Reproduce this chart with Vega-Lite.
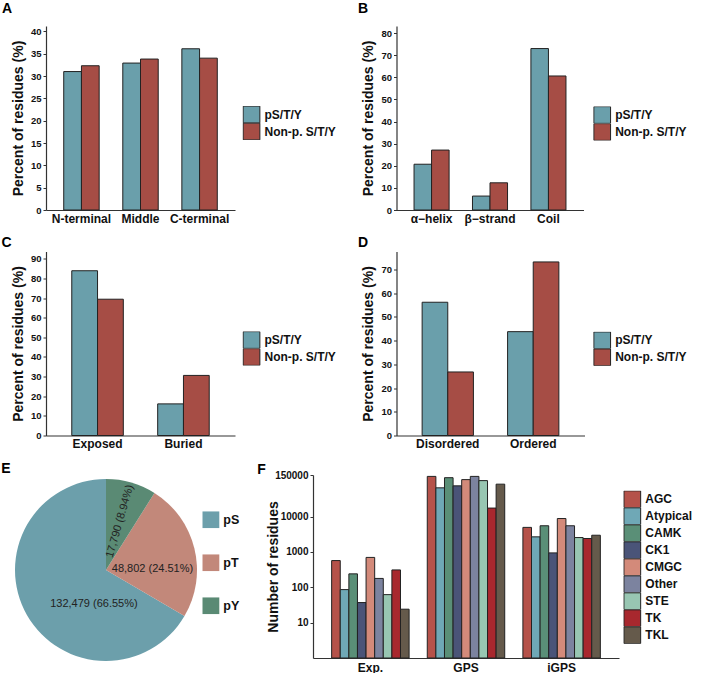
{
  "$schema": "https://vega.github.io/schema/vega-lite/v6.json",
  "background": "white",
  "padding": {"left": 1, "top": 2, "right": 0, "bottom": 0},
  "config": {
    "view": {"stroke": null},
    "font": "Liberation Sans",
    "title": {"fontSize": 14, "fontWeight": "bold", "anchor": "start", "frame": "bounds", "color": "#000"},
    "axis": {"grid": false, "domainColor": "#333", "domainWidth": 1.2, "tickColor": "#333", "tickWidth": 1, "tickSize": 3, "labelColor": "#111", "labelFontWeight": "bold", "titleFontWeight": "bold", "titleColor": "#111", "titleFontSize": 14},
    "axisX": {"ticks": false, "labelFontSize": 12, "labelAngle": 0, "labelPadding": 3},
    "axisY": {"labelFontSize": 9.5, "labelPadding": 2, "titlePadding": 5},
    "legend": {"title": null, "orient": "none", "labelFontSize": 12, "labelFontWeight": "bold", "labelColor": "#111", "symbolType": "square", "symbolStrokeColor": "#222", "symbolStrokeWidth": 1, "symbolOpacity": 1, "labelOffset": 4, "rowPadding": 0, "clipHeight": 17}
  },
  "datasets": {
    "a": [
      {"region": "N-terminal", "status": "pS/T/Y", "pct": 31.0},
      {"region": "N-terminal", "status": "Non-p. S/T/Y", "pct": 32.3},
      {"region": "Middle", "status": "pS/T/Y", "pct": 32.9},
      {"region": "Middle", "status": "Non-p. S/T/Y", "pct": 33.8},
      {"region": "C-terminal", "status": "pS/T/Y", "pct": 36.1},
      {"region": "C-terminal", "status": "Non-p. S/T/Y", "pct": 34.0}
    ],
    "b": [
      {"structure": "α−helix", "status": "pS/T/Y", "pct": 20.7},
      {"structure": "α−helix", "status": "Non-p. S/T/Y", "pct": 27.1},
      {"structure": "β−strand", "status": "pS/T/Y", "pct": 6.3},
      {"structure": "β−strand", "status": "Non-p. S/T/Y", "pct": 12.3},
      {"structure": "Coil", "status": "pS/T/Y", "pct": 73.0},
      {"structure": "Coil", "status": "Non-p. S/T/Y", "pct": 60.6}
    ],
    "c": [
      {"access": "Exposed", "status": "pS/T/Y", "pct": 83.9},
      {"access": "Exposed", "status": "Non-p. S/T/Y", "pct": 69.4},
      {"access": "Buried", "status": "pS/T/Y", "pct": 16.1},
      {"access": "Buried", "status": "Non-p. S/T/Y", "pct": 30.6}
    ],
    "d": [
      {"disorder": "Disordered", "status": "pS/T/Y", "pct": 56.2},
      {"disorder": "Disordered", "status": "Non-p. S/T/Y", "pct": 26.8},
      {"disorder": "Ordered", "status": "pS/T/Y", "pct": 43.8},
      {"disorder": "Ordered", "status": "Non-p. S/T/Y", "pct": 73.2}
    ],
    "e": [
      {"type": "pS", "count": 132479, "label": "132,479 (66.55%)"},
      {"type": "pT", "count": 48802, "label": "48,802 (24.51%)"},
      {"type": "pY", "count": 17790, "label": "17,790 (8.94%)"}
    ],
    "f": [
      {"method": "Exp.", "kinase": "AGC", "n": 570},
      {"method": "Exp.", "kinase": "Atypical", "n": 86},
      {"method": "Exp.", "kinase": "CAMK", "n": 240},
      {"method": "Exp.", "kinase": "CK1", "n": 37},
      {"method": "Exp.", "kinase": "CMGC", "n": 700},
      {"method": "Exp.", "kinase": "Other", "n": 178},
      {"method": "Exp.", "kinase": "STE", "n": 62},
      {"method": "Exp.", "kinase": "TK", "n": 310},
      {"method": "Exp.", "kinase": "TKL", "n": 24},
      {"method": "GPS", "kinase": "AGC", "n": 137000},
      {"method": "GPS", "kinase": "Atypical", "n": 65000},
      {"method": "GPS", "kinase": "CAMK", "n": 126000},
      {"method": "GPS", "kinase": "CK1", "n": 74000},
      {"method": "GPS", "kinase": "CMGC", "n": 111000},
      {"method": "GPS", "kinase": "Other", "n": 137000},
      {"method": "GPS", "kinase": "STE", "n": 104000},
      {"method": "GPS", "kinase": "TK", "n": 17400},
      {"method": "GPS", "kinase": "TKL", "n": 82600},
      {"method": "iGPS", "kinase": "AGC", "n": 4950},
      {"method": "iGPS", "kinase": "Atypical", "n": 2670},
      {"method": "iGPS", "kinase": "CAMK", "n": 5500},
      {"method": "iGPS", "kinase": "CK1", "n": 940},
      {"method": "iGPS", "kinase": "CMGC", "n": 8800},
      {"method": "iGPS", "kinase": "Other", "n": 5500},
      {"method": "iGPS", "kinase": "STE", "n": 2550},
      {"method": "iGPS", "kinase": "TK", "n": 2400},
      {"method": "iGPS", "kinase": "TKL", "n": 2970}
    ]
  },
  "resolve": {"scale": {"color": "independent", "xOffset": "independent"}, "legend": {"color": "independent"}},
  "columns": 1,
  "align": "none",
  "spacing": 11.5,
  "concat": [
    {
      "spacing": 20.5,
      "resolve": {"scale": {"color": "independent", "xOffset": "independent"}, "legend": {"color": "independent"}},
      "hconcat": [
        {
          "title": {"text": "A", "dx": -9.4, "offset": 10},
          "width": 189, "height": 184,
          "data": {"name": "a"},
          "mark": {"type": "bar", "stroke": "#222", "strokeWidth": 1},
          "encoding": {
            "x": {"field": "region", "type": "nominal", "sort": ["N-terminal", "Middle", "C-terminal"], "scale": {"paddingInner": 0.4, "paddingOuter": 0.3}, "axis": {"title": null}},
            "xOffset": {"field": "status", "type": "nominal", "sort": ["pS/T/Y", "Non-p. S/T/Y"], "scale": {"paddingInner": 0, "paddingOuter": 0}},
            "y": {"field": "pct", "type": "quantitative", "stack": null, "scale": {"domain": [0, 41.2], "nice": false}, "axis": {"title": "Percent of residues (%)", "values": [0, 5, 10, 15, 20, 25, 30, 35, 40]}},
            "color": {"field": "status", "type": "nominal", "scale": {"domain": ["pS/T/Y", "Non-p. S/T/Y"], "range": ["#6A9FAB", "#A64D45"]}, "legend": {"legendX": 196.5, "legendY": 80, "symbolSize": 280}}
          }
        },
        {
          "title": {"text": "B", "dx": -4, "offset": 10},
          "width": 187, "height": 184,
          "data": {"name": "b"},
          "mark": {"type": "bar", "stroke": "#222", "strokeWidth": 1},
          "encoding": {
            "x": {"field": "structure", "type": "nominal", "sort": ["α−helix", "β−strand", "Coil"], "scale": {"paddingInner": 0.4, "paddingOuter": 0.3}, "axis": {"title": null}},
            "xOffset": {"field": "status", "type": "nominal", "sort": ["pS/T/Y", "Non-p. S/T/Y"], "scale": {"paddingInner": 0, "paddingOuter": 0}},
            "y": {"field": "pct", "type": "quantitative", "stack": null, "scale": {"domain": [0, 83.2], "nice": false}, "axis": {"title": "Percent of residues (%)", "values": [0, 10, 20, 30, 40, 50, 60, 70, 80]}},
            "color": {"field": "status", "type": "nominal", "scale": {"domain": ["pS/T/Y", "Non-p. S/T/Y"], "range": ["#6A9FAB", "#A64D45"]}, "legend": {"legendX": 196.7, "legendY": 80.5, "symbolSize": 280}}
          }
        }
      ]
    },
    {
      "spacing": 20.5,
      "resolve": {"scale": {"color": "independent", "xOffset": "independent"}, "legend": {"color": "independent"}},
      "hconcat": [
        {
          "title": {"text": "C", "dx": -10, "offset": 1.5},
          "width": 189, "height": 184,
          "data": {"name": "c"},
          "mark": {"type": "bar", "stroke": "#222", "strokeWidth": 1},
          "encoding": {
            "x": {"field": "access", "type": "nominal", "sort": ["Exposed", "Buried"], "scale": {"paddingInner": 0.4, "paddingOuter": 0.3}, "axis": {"title": null}},
            "xOffset": {"field": "status", "type": "nominal", "sort": ["pS/T/Y", "Non-p. S/T/Y"], "scale": {"paddingInner": 0, "paddingOuter": 0}},
            "y": {"field": "pct", "type": "quantitative", "stack": null, "scale": {"domain": [0, 93.7], "nice": false}, "axis": {"title": "Percent of residues (%)", "values": [0, 10, 20, 30, 40, 50, 60, 70, 80, 90]}},
            "color": {"field": "status", "type": "nominal", "scale": {"domain": ["pS/T/Y", "Non-p. S/T/Y"], "range": ["#6A9FAB", "#A64D45"]}, "legend": {"legendX": 196.5, "legendY": 80, "symbolSize": 280}}
          }
        },
        {
          "title": {"text": "D", "dx": -4, "offset": 1.5},
          "width": 188, "height": 184,
          "data": {"name": "d"},
          "mark": {"type": "bar", "stroke": "#222", "strokeWidth": 1},
          "encoding": {
            "x": {"field": "disorder", "type": "nominal", "sort": ["Disordered", "Ordered"], "scale": {"paddingInner": 0.4, "paddingOuter": 0.3}, "axis": {"title": null}},
            "xOffset": {"field": "status", "type": "nominal", "sort": ["pS/T/Y", "Non-p. S/T/Y"], "scale": {"paddingInner": 0, "paddingOuter": 0}},
            "y": {"field": "pct", "type": "quantitative", "stack": null, "scale": {"domain": [0, 77.6], "nice": false}, "axis": {"title": "Percent of residues (%)", "values": [0, 10, 20, 30, 40, 50, 60, 70]}},
            "color": {"field": "status", "type": "nominal", "scale": {"domain": ["pS/T/Y", "Non-p. S/T/Y"], "range": ["#6A9FAB", "#A64D45"]}, "legend": {"legendX": 196.7, "legendY": 80.3, "symbolSize": 280}}
          }
        }
      ]
    },
    {
      "spacing": 17,
      "resolve": {"scale": {"color": "independent", "xOffset": "independent"}, "legend": {"color": "independent"}},
      "hconcat": [
        {
          "title": {"text": "E", "dx": -13.7, "offset": -0.5},
          "width": 120, "height": 190,
          "data": {"name": "e"},
          "encoding": {
            "theta": {"field": "count", "type": "quantitative", "stack": true},
            "order": {"field": "type", "sort": "descending"}
          },
          "layer": [
            {
              "mark": {"type": "arc", "outerRadius": 91},
              "encoding": {
                "color": {"field": "type", "type": "nominal", "scale": {"domain": ["pS", "pT", "pY"], "range": ["#6C9FAB", "#C2887A", "#5A8A74"]}, "legend": {"legendX": 156.3, "legendY": 36.3, "symbolSize": 289, "symbolStrokeWidth": 0, "rowPadding": 26, "labelFontSize": 12.5}}
              }
            },
            {
              "mark": {"type": "text", "radius": 37, "dx": 20, "dy": 16, "fontSize": 11, "color": "#222", "align": "center", "baseline": "middle"},
              "encoding": {"text": {"field": "label", "type": "nominal", "condition": {"test": "datum.type !== 'pS'", "value": ""}}}
            },
            {
              "mark": {"type": "text", "radius": 6, "fontSize": 11, "color": "#222", "align": "left", "baseline": "middle"},
              "encoding": {"text": {"field": "label", "type": "nominal", "condition": {"test": "datum.type !== 'pT'", "value": ""}}}
            },
            {
              "mark": {"type": "text", "radius": 13, "angle": 286, "fontSize": 11, "color": "#222", "align": "left", "baseline": "middle"},
              "encoding": {"text": {"field": "label", "type": "nominal", "condition": {"test": "datum.type !== 'pY'", "value": ""}}}
            }
          ]
        },
        {
          "title": {"text": "F", "dx": -9.4, "offset": -7.1},
          "width": 306, "height": 183,
          "data": {"name": "f"},
          "mark": {"type": "bar", "stroke": "#222", "strokeWidth": 1},
          "encoding": {
            "x": {"field": "method", "type": "nominal", "sort": ["Exp.", "GPS", "iGPS"], "scale": {"paddingInner": 0.19, "paddingOuter": 0.195}, "axis": {"title": null, "labelPadding": 4}},
            "xOffset": {"field": "kinase", "type": "nominal", "sort": ["AGC", "Atypical", "CAMK", "CK1", "CMGC", "Other", "STE", "TK", "TKL"], "scale": {"paddingInner": 0, "paddingOuter": 0}},
            "y": {"field": "n", "type": "quantitative", "stack": null, "scale": {"type": "log", "domain": [1, 150000], "nice": false}, "axis": {"title": "Number of residues", "values": [10, 100, 1000, 10000, 150000], "format": "d", "titlePadding": -6, "labelFontSize": 10}},
            "y2": {"datum": 1},
            "color": {"field": "kinase", "type": "nominal", "scale": {"domain": ["AGC", "Atypical", "CAMK", "CK1", "CMGC", "Other", "STE", "TK", "TKL"], "range": ["#B5524A", "#6FA8B6", "#5A8F77", "#4A5478", "#D38A7A", "#7C839F", "#98C6B2", "#A8282E", "#655A4B"]}, "legend": {"legendX": 310.3, "legendY": 15.7, "symbolSize": 280}}
          }
        }
      ]
    }
  ]
}
